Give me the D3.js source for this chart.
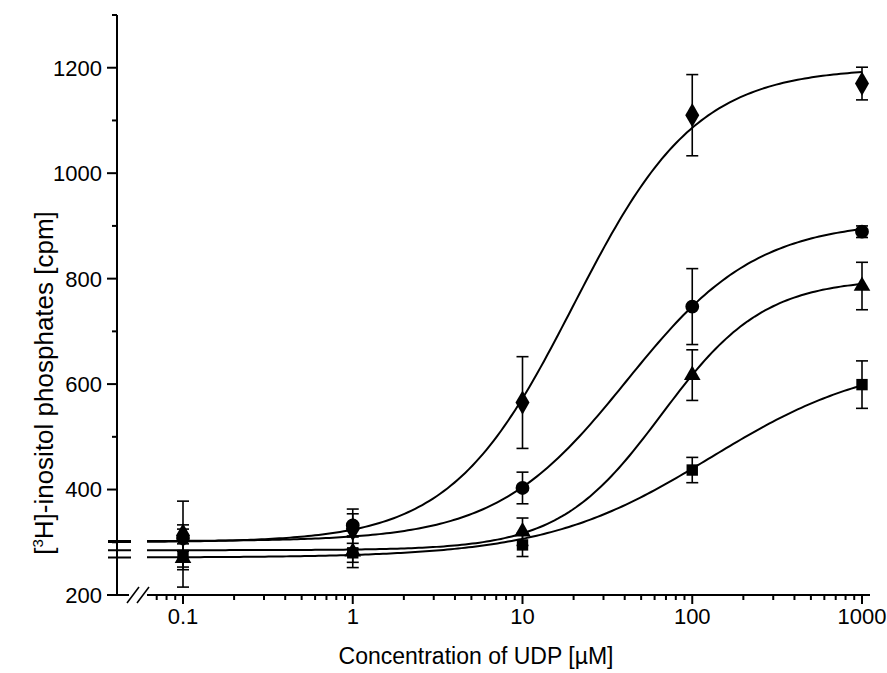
<!DOCTYPE html>
<html>
<head>
<meta charset="utf-8">
<script src="https://cdn.jsdelivr.net/npm/d3@7"></script>
<style>
  html, body { margin: 0; padding: 0; background: #fff; }
  svg { display: block; font-family: Arial, "Liberation Sans", sans-serif; }
</style>
</head>
<body>
<div id="chart"></div>
<script>
// concentrations of UDP (µM) and the four measured series (mean, error)
const conc = [0.1, 1, 10, 100, 1000];
const diamondMean = [313, 325, 565, 1110, 1170];
const diamondErr  = [65, 38, 87, 77, 31];
const circleMean  = [308, 332, 403, 747, 889];
const circleErr   = [25, 22, 30, 72, 11];
const triangleMean = [270, 282, 320, 617, 786];
const triangleErr  = [55, 30, 26, 48, 45];
const squareMean  = [275, 280, 295, 437, 599];
const squareErr   = [22, 18, 22, 24, 45];

// fitted sigmoid curves: [bottom, top, EC50, hill slope]
const diamondFit  = [300, 1200, 20, 1.2];
const circleFit   = [302, 910, 41, 1.13];
const triangleFit = [285, 800, 66, 1.44];
const squareFit   = [271, 650, 128, 0.89];

const xMajor = [0.1, 1, 10, 100, 1000];
const xMajorLabels = ['0.1', '1', '10', '100', '1000'];
const yMajor = [200, 400, 600, 800, 1000, 1200];
const yMinor = [300, 500, 700, 900, 1100, 1300];

(function(){
  const W = 887, H = 673;
  const svg = d3.select('#chart').append('svg')
    .attr('width', W).attr('height', H);

  const x = d3.scaleLog().domain([0.1, 1000]).range([183, 862]);
  const y = d3.scaleLinear().domain([200, 1300]).range([595, 15]);
  const axisX = 117, axisY = y(200);
  const breakL = 131, breakR = 147;

  // ---- y axis
  const ya = svg.append('g').attr('stroke', '#000').attr('stroke-width', 2);
  ya.append('line').attr('x1', axisX).attr('x2', axisX).attr('y1', y(1300)).attr('y2', axisY + 1);
  ya.selectAll('.maj').data(yMajor).join('line')
    .attr('x1', axisX - 10).attr('x2', axisX).attr('y1', d => y(d)).attr('y2', d => y(d));
  ya.selectAll('.min').data(yMinor).join('line')
    .attr('x1', axisX - 5).attr('x2', axisX).attr('y1', d => y(d)).attr('y2', d => y(d));
  svg.append('g').selectAll('text').data(yMajor).join('text')
    .attr('x', axisX - 15).attr('y', d => y(d)).attr('dy', '0.36em')
    .attr('text-anchor', 'end').attr('font-size', 22)
    .text(d => d);

  // ---- x axis with break
  const xa = svg.append('g').attr('stroke', '#000').attr('stroke-width', 2);
  xa.append('line').attr('x1', axisX).attr('x2', breakL - 2).attr('y1', axisY).attr('y2', axisY);
  xa.append('line').attr('x1', breakR).attr('x2', 870).attr('y1', axisY).attr('y2', axisY);
  [0, 10].forEach(o => {
    xa.append('line').attr('x1', 127 + o).attr('y1', axisY + 8).attr('x2', 139 + o).attr('y2', axisY - 8)
      .attr('stroke-width', 1.6);
  });
  const xMinor = [];
  [0.01, 0.1, 1, 10, 100].forEach(dec => d3.range(2, 10).forEach(k => {
    const v = dec * k;
    if (x(v) > breakR + 6 && v < 1000) xMinor.push(v);
  }));
  xa.selectAll('.min').data(xMinor).join('line')
    .attr('x1', d => x(d)).attr('x2', d => x(d)).attr('y1', axisY).attr('y2', axisY + 5);
  xa.selectAll('.maj').data(xMajor).join('line')
    .attr('x1', d => x(d)).attr('x2', d => x(d)).attr('y1', axisY).attr('y2', axisY + 9);
  svg.append('g').selectAll('text').data(xMajor).join('text')
    .attr('x', d => x(d)).attr('y', axisY + 29)
    .attr('text-anchor', 'middle').attr('font-size', 22)
    .text((d, i) => xMajorLabels[i]);

  // ---- axis titles
  svg.append('text').attr('x', 476).attr('y', 664)
    .attr('text-anchor', 'middle').attr('font-size', 23)
    .text('Concentration of UDP [\u00B5M]');
  const yt = svg.append('text')
    .attr('transform', 'translate(53,' + 383 + ') rotate(-90)')
    .attr('text-anchor', 'middle').attr('font-size', 26);
  yt.append('tspan').text('[');
  yt.append('tspan').attr('font-size', 15).attr('dy', -10).text('3');
  yt.append('tspan').attr('dy', 10).text('H]-inositol phosphates [cpm]');

  // ---- fitted curves
  const hill = (p, c) => p[0] + (p[1] - p[0]) / (1 + Math.pow(p[2] / c, p[3]));
  const line = d3.line().x(d => x(d[0])).y(d => y(d[1])).curve(d3.curveLinear);
  const fits = [diamondFit, circleFit, triangleFit, squareFit];
  const segs = [[x.invert(108), x.invert(breakL)], [x.invert(breakR), 1000]];
  fits.forEach(p => {
    segs.forEach(s => {
      const lo = Math.log10(s[0]), hi = Math.log10(s[1]);
      const pts = d3.range(0, 201).map(i => {
        const c = Math.pow(10, lo + (hi - lo) * i / 200);
        return [c, hill(p, c)];
      });
      svg.append('path').attr('d', line(pts))
        .attr('fill', 'none').attr('stroke', '#000').attr('stroke-width', 2);
    });
  });

  // ---- error bars and markers
  const series = [
    { mean: diamondMean, err: diamondErr, sym: d3.symbolDiamond, size: 170 },
    { mean: circleMean, err: circleErr, sym: d3.symbolCircle, size: 150 },
    { mean: triangleMean, err: triangleErr, sym: d3.symbolTriangle, size: 120 },
    { mean: squareMean, err: squareErr, sym: d3.symbolSquare, size: 130 }
  ];
  series.forEach(s => {
    const g = svg.append('g');
    const rows = conc.map((c, i) => ({ c, m: s.mean[i], e: s.err[i] }));
    const eb = g.append('g').attr('stroke', '#000').attr('stroke-width', 1.6);
    eb.selectAll('.v').data(rows).join('line')
      .attr('x1', d => x(d.c)).attr('x2', d => x(d.c))
      .attr('y1', d => y(d.m - d.e)).attr('y2', d => y(d.m + d.e));
    eb.selectAll('.t').data(rows).join('line')
      .attr('x1', d => x(d.c) - 6).attr('x2', d => x(d.c) + 6)
      .attr('y1', d => y(d.m + d.e)).attr('y2', d => y(d.m + d.e));
    eb.selectAll('.b').data(rows).join('line')
      .attr('x1', d => x(d.c) - 6).attr('x2', d => x(d.c) + 6)
      .attr('y1', d => y(d.m - d.e)).attr('y2', d => y(d.m - d.e));
    const sym = d3.symbol().type(s.sym).size(s.size);
    g.selectAll('path').data(rows).join('path')
      .attr('transform', d => 'translate(' + x(d.c) + ',' + y(d.m) + ')')
      .attr('d', sym()).attr('fill', '#000');
  });
})();
</script>
</body>
</html>
